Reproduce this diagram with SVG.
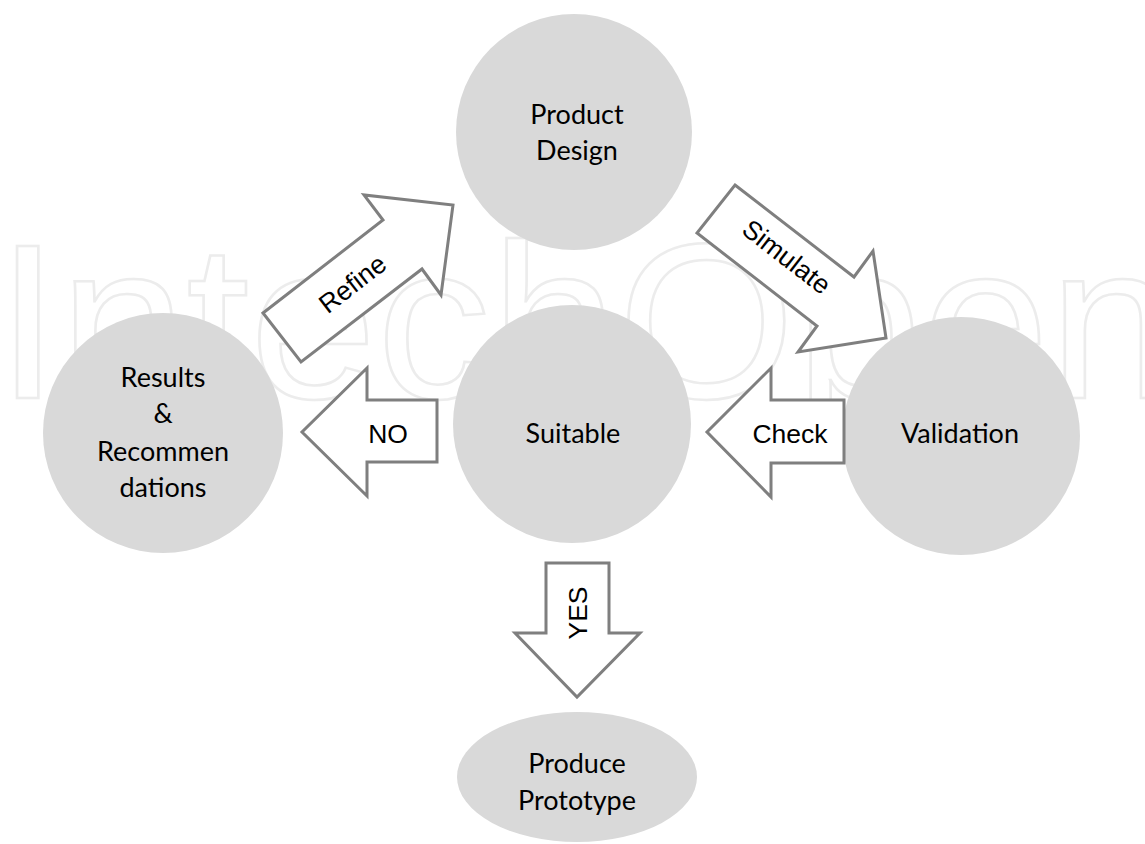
<svg xmlns="http://www.w3.org/2000/svg" width="1145" height="844" viewBox="0 0 1145 844">
<style>
.node{fill:#d9d9d9;}
.lbl{font-family:Lato,"Liberation Sans",sans-serif;font-size:27px;fill:#000;text-anchor:middle;}
.arr{fill:#fff;stroke:#7f7f7f;stroke-width:3;stroke-linejoin:miter;}
.al{font-family:"Liberation Sans",Arial,sans-serif;font-size:26.5px;fill:#000;text-anchor:middle;}
.wm{font-family:"Liberation Sans",Arial,sans-serif;font-size:220px;fill:none;stroke:#ececec;stroke-width:2.5;}
</style>
<rect width="1145" height="844" fill="#fff"/>
<text class="wm" x="-4" y="398" textLength="1180" lengthAdjust="spacingAndGlyphs">IntechOpen</text>
<g id="product-design"><circle class="node" cx="574" cy="132" r="118"/><text class="lbl" x="577" y="124">Product</text><text class="lbl" x="577" y="160">Design</text></g>
<g id="suitable"><circle class="node" cx="572" cy="424" r="119"/><text class="lbl" x="573" y="443">Suitable</text></g>
<g id="validation"><circle class="node" cx="961" cy="436" r="119"/><text class="lbl" x="960" y="443">Validation</text></g>
<g id="results"><circle class="node" cx="163" cy="433" r="120"/><text class="lbl" x="163" y="387">Results</text><text class="lbl" x="163" y="423">&amp;</text><text class="lbl" x="163" y="461">Recommen</text><text class="lbl" x="163" y="497">dations</text></g>
<g id="produce-prototype"><ellipse class="node" cx="577" cy="777" rx="120" ry="65"/><text class="lbl" x="577" y="773">Produce</text><text class="lbl" x="577" y="810">Prototype</text></g>
<g id="connectors">
<g id="refine"><polygon class="arr" points="263,313 383,220 364,195 453,205 441,295 422,269 301,362"/><text class="al" transform="translate(358,291) rotate(-37.7)">Refine</text></g>
<g id="simulate"><polygon class="arr" points="735,185 854,277 873,251 886,338 798,352 817,326 697,233"/><text class="al" transform="translate(781,264) rotate(37.7)">Simulate</text></g>
<g id="no"><polygon class="arr" points="437,400 367,400 367,368 302,432 367,496 367,462 437,462"/><text class="al" x="388" y="443">NO</text></g>
<g id="check"><polygon class="arr" points="844,400 771,400 771,368 707,432 771,497 771,463 844,463"/><text class="al" x="790" y="443">Check</text></g>
<g id="yes"><polygon class="arr" points="546,563 609,563 609,633 640,633 577,697 515,633 546,633"/><text class="al" transform="translate(587,613) rotate(-90)">YES</text></g>
</g>
</svg>
